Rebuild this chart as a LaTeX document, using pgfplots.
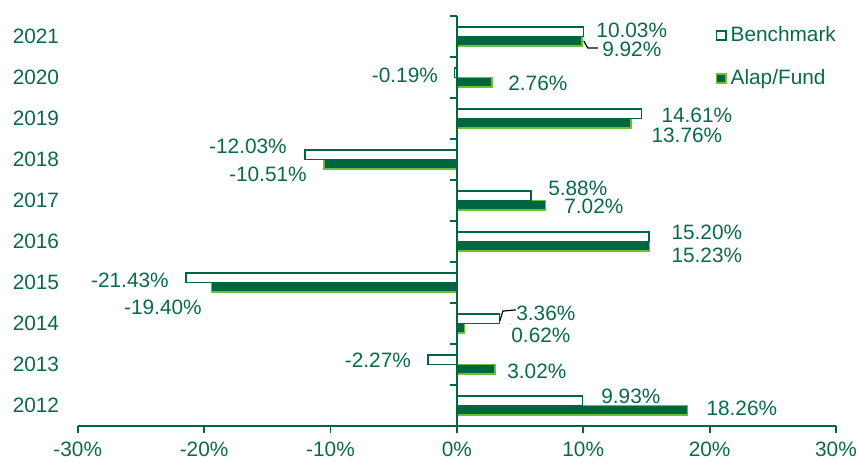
\documentclass[border=0pt]{standalone}
\usepackage{pgfplots}
\pgfplotsset{compat=1.18}
\usepackage{pgfplotstable}
\usepackage{fontspec}
\setmainfont{Liberation Sans}
\usetikzlibrary{calc}

\definecolor{txtgreen}{RGB}{10,106,72}
\definecolor{bargreen}{RGB}{0,102,64}
\definecolor{limegreen}{RGB}{110,190,60}

% year, benchmark, fund
\pgfplotstableread{
year bench fund
2012 9.93 18.26
2013 -2.27 3.02
2014 3.36 0.62
2015 -21.43 -19.40
2016 15.20 15.23
2017 5.88 7.02
2018 -12.03 -10.51
2019 14.61 13.76
2020 -0.19 2.76
2021 10.03 9.92
}\returns

% where the value labels sit
\pgfplotstableread{
x y lbl
13.84 2021.16 10.03\%
13.84 2020.69 9.92\%
-4.11 2020.06 -0.19\%
6.41 2019.86 2.76\%
18.99 2019.08 14.61\%
18.20 2018.59 13.76\%
-16.53 2018.32 -12.03\%
-14.95 2017.63 -10.51\%
9.57 2017.29 5.88\%
10.84 2016.85 7.02\%
19.78 2016.21 15.20\%
19.78 2015.65 15.23\%
-25.87 2015.06 -21.43\%
-23.26 2014.40 -19.40\%
7.04 2014.25 3.36\%
6.65 2013.71 0.62\%
-6.25 2013.10 -2.27\%
6.33 2012.83 3.02\%
13.77 2012.22 9.93\%
22.55 2011.93 18.26\%
}\labels

\begin{document}
\begin{tikzpicture}[font=\fontsize{10.4}{12.5}\selectfont]
\begin{axis}[
    name=main,
    scale only axis,
    width=379pt,
    height=204.85pt,
    xmin=-30, xmax=30,
    ymin=2011.5, ymax=2021.5,
    axis x line*=bottom,
    axis y line*=left,
    y axis line style={draw=none},
    x axis line style={draw=bargreen, line width=0.9pt},
    xtick={-30,-20,...,30},
    xticklabels={-30\%,-20\%,-10\%,0\%,10\%,20\%,30\%},
    ytick={2012,...,2021},
    yticklabels={2012,2013,2014,2015,2016,2017,2018,2019,2020,2021},
    major x tick style={draw=bargreen, line width=0.9pt},
    major y tick style={draw=none},
    tick align=outside,
    major tick length=3.5pt,
    yticklabel style={anchor=east, xshift=-2.3pt},
    xticklabel style={yshift=-1.2pt},
    every tick label/.append style={text=txtgreen},
    bar width=4.8pt,
    legend style={at={(0.841,0.985)}, anchor=north west, draw=none, fill=none,
        text=txtgreen, row sep=8.5pt, inner sep=0pt,
        nodes={inner sep=2pt}},
    legend cell align=left,
    reverse legend,
    legend image code/.code={\draw[#1] (0pt,-2.3pt) rectangle (4.6pt,2.3pt);},
]
\addplot[xbar, bar shift=-2.4pt, fill=bargreen, draw=limegreen, line width=0.8pt]
    table[x=fund, y=year] {\returns};
\addlegendentry{Alap/Fund}
\addplot[xbar, bar shift=2.4pt, fill=white, draw=bargreen, line width=0.8pt]
    table[x=bench, y=year] {\returns};
\addlegendentry{Benchmark}

% leader lines
\addplot[forget plot, black, line width=0.6pt] coordinates {(10.05,2020.89) (10.36,2020.72) (11.16,2020.72)};
\addplot[forget plot, black, line width=0.6pt] coordinates {(3.40,2014.06) (3.64,2014.30) (4.67,2014.33)};

% value labels
\addplot[forget plot, only marks, mark=none, point meta=explicit symbolic,
    nodes near coords,
    every node near coord/.append style={anchor=center, text=txtgreen, inner sep=0pt}]
    table[x=x, y=y, meta=lbl] {\labels};
\end{axis}

% line at 0 with category ticks on its left
\begin{axis}[
    at={(main.south)}, anchor=south west,
    scale only axis,
    width=189.5pt,
    height=204.85pt,
    xmin=0, xmax=30,
    ymin=2011.5, ymax=2021.5,
    axis x line=none,
    axis y line*=left,
    y axis line style={draw=bargreen, line width=0.9pt},
    xtick=\empty,
    ytick={2012.5,2013.5,...,2021.5},
    yticklabels={},
    major y tick style={draw=bargreen, line width=0.9pt},
    tick align=outside,
    major tick length=3.5pt,
]
\end{axis}

\pgfresetboundingbox
\path ($(main.south west)+(-38.85pt,-17.6pt)$) rectangle ($(main.north east)+(11.5pt,8pt)$);
\end{tikzpicture}
\end{document}
